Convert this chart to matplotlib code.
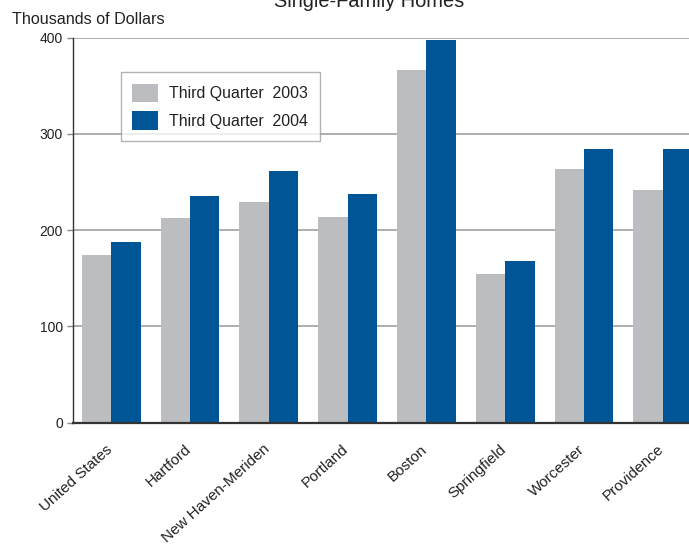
import matplotlib
matplotlib.use("Agg")
import matplotlib.pyplot as plt
import matplotlib.transforms as mtransforms
import numpy as np

categories = ["United States", "Hartford", "New Haven-Meriden", "Portland",
              "Boston", "Springfield", "Worcester", "Providence"]
q3_2003 = [173.8, 212.7, 229.4, 213.8, 366.3, 154.4, 263.6, 241.4]
q3_2004 = [187.8, 235.7, 261.2, 237.8, 397.7, 168.0, 284.0, 284.0]
series_labels = ["Third Quarter  2003", "Third Quarter  2004"]
yticks = [0, 100, 200, 300, 400]

plt.rcParams['font.family'] = ['Liberation Sans', 'DejaVu Sans']

W, H = 689, 548
fig = plt.figure(figsize=(W / 100, H / 100), dpi=100)
ax = fig.add_axes([72.7 / W, 125.3 / H, (700 - 72.7) / W, 385 / H])

x = np.arange(len(categories))
w = 0.372
gray = "#bcbdc0"
blue = "#005596"
ax.bar(x - w / 2, q3_2003, width=w, color=gray, label=series_labels[0], zorder=2)
ax.bar(x + w / 2, q3_2004, width=w, color=blue, label=series_labels[1], zorder=2)

ax.set_xlim(-0.4886, 7.472)
ax.set_ylim(0, 400)
ax.set_yticks(yticks)
ax.set_yticklabels([str(v) for v in yticks], fontsize=10, color="#222222")
ax.yaxis.grid(True, color="#a0a0a0", linewidth=1.2, zorder=0)
ax.set_axisbelow(True)
ax.tick_params(axis='y', length=4, width=1, color="#888888", pad=3)
ax.tick_params(axis='x', length=0, pad=14)
ax.set_xticks(x)
ax.set_xticklabels(categories, rotation=42, ha='right', rotation_mode='anchor',
                   fontsize=11, color="#222222")
shift = mtransforms.ScaledTranslation(-6 / 100, 0, fig.dpi_scale_trans)
for lbl in ax.get_xticklabels():
    lbl.set_transform(lbl.get_transform() + shift)

for s in ['top', 'right']:
    ax.spines[s].set_visible(False)
ax.spines['left'].set_color("#333333")
ax.spines['left'].set_linewidth(1.0)
ax.spines['bottom'].set_color("#333333")
ax.spines['bottom'].set_linewidth(1.6)

leg = ax.legend(loc='upper left', bbox_to_anchor=(120.7 / W, 1 - 72.3 / H),
                bbox_transform=fig.transFigure, borderaxespad=0,
                fontsize=11.4, frameon=True, fancybox=False,
                handlelength=1.66, handleheight=1.43, labelspacing=0.57,
                handletextpad=0.7, borderpad=0.72)
leg.get_frame().set_edgecolor("#a0a0a0")
leg.get_frame().set_linewidth(1.0)
for t in leg.get_texts():
    t.set_color("#222222")

fig.text(369.5 / W, 1 - 7.3 / H, "Single-Family Homes", ha='center', va='baseline',
         fontsize=14.4, color="#222222")
fig.text(11.7 / W, 1 - 24 / H, "Thousands of Dollars", ha='left', va='baseline',
         fontsize=11.6, color="#222222")

fig.savefig("out.png", dpi=100)
